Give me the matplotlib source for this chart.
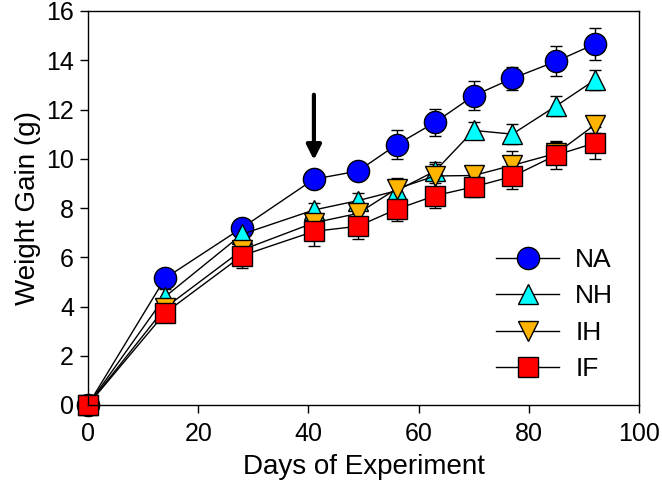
import matplotlib
matplotlib.use("Agg")
import matplotlib.pyplot as plt
from matplotlib.lines import Line2D

plt.rcParams['font.family'] = ['Liberation Sans', 'DejaVu Sans']

days = [0, 14, 28, 41, 49, 56, 63, 70, 77, 85, 92]
series_names = ["NA", "NH", "IH", "IF"]
na = [0, 5.15, 7.2, 9.17, 9.5, 10.57, 11.48, 12.56, 13.26, 13.96, 14.66]
nh = [0, 4.4, 6.94, 7.92, 8.3, 8.7, 9.5, 11.15, 11.0, 12.15, 13.2]
ih = [0, 3.95, 6.3, 7.4, 7.78, 8.78, 9.3, 9.32, 9.73, 10.22, 11.38]
if_ = [0, 3.74, 6.07, 7.05, 7.26, 7.95, 8.5, 8.86, 9.28, 10.15, 10.64]
na_err = [0, 0.3, 0.3, 0.3, 0.3, 0.6, 0.55, 0.6, 0.45, 0.6, 0.63]
nh_err = [0, 0.3, 0.3, 0.3, 0.3, 0.3, 0.35, 0.35, 0.42, 0.4, 0.39]
ih_err = [0, 0.3, 0.3, 0.35, 0.3, 0.43, 0.5, 0.35, 0.6, 0.45, 0.34]
if_err = [0, 0.3, 0.49, 0.58, 0.53, 0.46, 0.5, 0.42, 0.51, 0.57, 0.64]
arrow_day = 41
arrow_from, arrow_to = 12.6, 9.95

fig = plt.figure(figsize=(6.62, 4.96), dpi=100)
ax = fig.add_axes([88/662, 1-405/496, (639-88)/662, (405-11)/496])

styles = [
    (na, na_err, 'o', '#0000ff', 16),
    (nh, nh_err, '^', '#00ffff', 15),
    (ih, ih_err, 'v', '#ffb400', 15),
    (if_, if_err, 's', '#ff0000', 14),
]
handles = []
for name, (vals, err, mk, col, ms) in zip(series_names, styles):
    ax.errorbar(days, vals, yerr=err, fmt='-', color='black', lw=1,
                marker=mk, markersize=ms, markerfacecolor=col,
                markeredgecolor='black', markeredgewidth=1,
                ecolor='black', elinewidth=1, capsize=4.5, capthick=1,
                clip_on=False)
    handles.append(Line2D([], [], color='black', lw=1, marker=mk,
                          markersize=ms, markerfacecolor=col,
                          markeredgecolor='black', markeredgewidth=1,
                          label=name))

ax.annotate('', xy=(arrow_day, arrow_to), xytext=(arrow_day, arrow_from),
            arrowprops=dict(arrowstyle='-|>', lw=3, color='black',
                            mutation_scale=22, shrinkA=0, shrinkB=0))

ax.set_xlim(0, 100)
ax.set_ylim(0, 16)
ax.set_xticks([0, 20, 40, 60, 80, 100])
ax.set_yticks([0, 2, 4, 6, 8, 10, 12, 14, 16])
ax.tick_params(direction='out', length=6, width=1, labelsize=18, pad=6)
ax.tick_params(axis='y', pad=4)
for s in ax.spines.values():
    s.set_linewidth(1)
ax.set_xlabel('Days of Experiment', fontsize=20, labelpad=6)
ax.set_ylabel('Weight Gain (g)', fontsize=20, labelpad=4)

leg = ax.legend(handles=handles, frameon=False, fontsize=19, loc='upper left',
                bbox_to_anchor=(496/662, 1-248/496),
                bbox_transform=fig.transFigure, handlelength=2.4,
                handletextpad=0.6, labelspacing=0.47, borderaxespad=0,
                borderpad=0, numpoints=1)

fig.savefig('out.png', dpi=100)
